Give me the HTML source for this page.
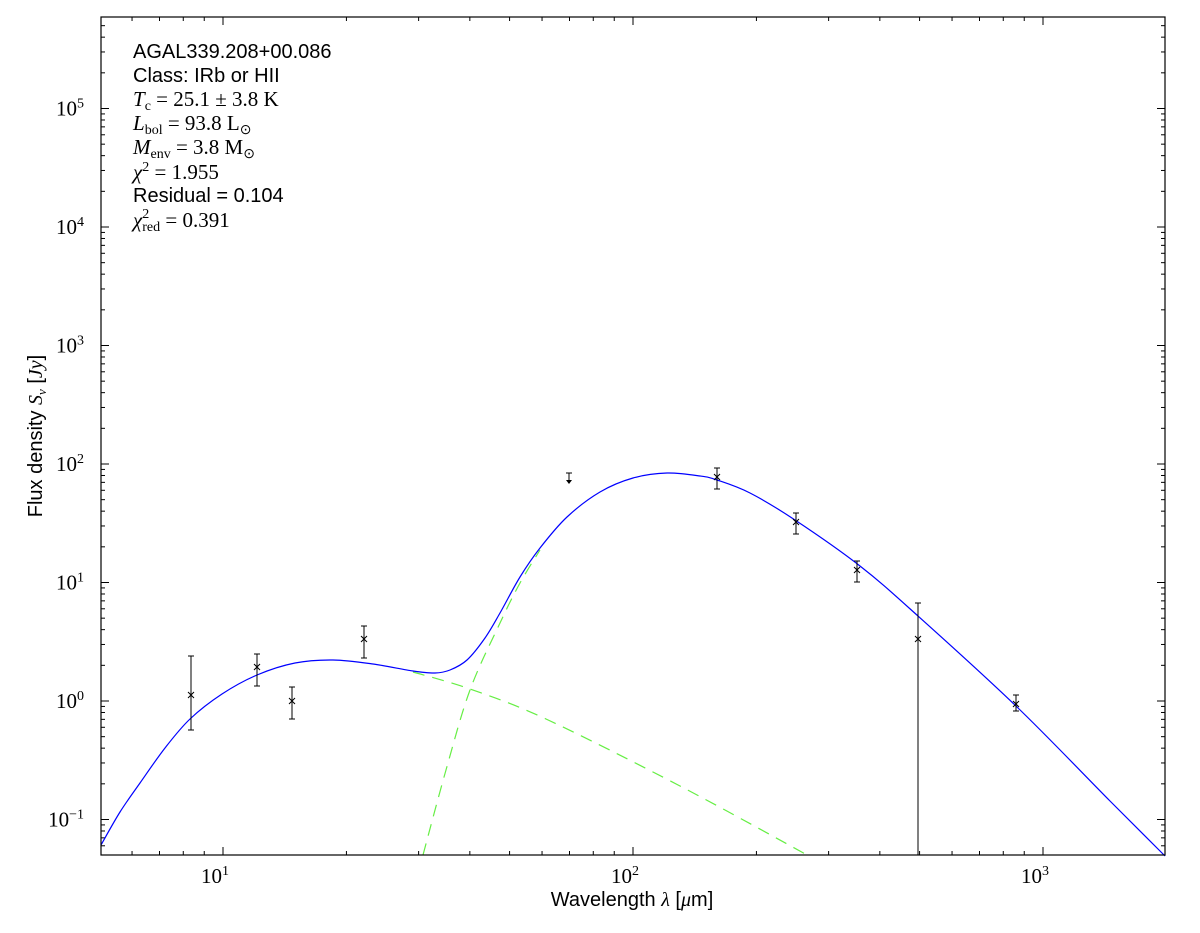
<!DOCTYPE html>
<html><head><meta charset="utf-8"><style>
html,body{margin:0;padding:0;background:#fff;}
svg{display:block;}
text{font-family:"Liberation Serif",serif;fill:#000;}
.s{font-family:"Liberation Sans",sans-serif;}
</style></head><body>
<svg id="c" width="1200" height="933" xmlns="http://www.w3.org/2000/svg">
<rect width="1200" height="933" fill="#fff"/>
<g id="g"></g>
<rect x="101" y="17" width="1064" height="838" fill="none" stroke="#000" stroke-width="1.2"/>
<g font-size="21">
<text x="133" y="58" class="s" font-size="20">AGAL339.208+00.086</text>
<text x="133" y="82" class="s" font-size="20">Class: IRb or HII</text>
<text x="133" y="106"><tspan font-style="italic">T</tspan><tspan font-size="14" dy="4">c</tspan><tspan dy="-4"> = 25.1 ± 3.8 K</tspan></text>
<text x="133" y="130"><tspan font-style="italic">L</tspan><tspan font-size="14" dy="4">bol</tspan><tspan dy="-4"> = 93.8 L</tspan><tspan font-size="14" dy="4">⊙</tspan></text>
<text x="133" y="154"><tspan font-style="italic">M</tspan><tspan font-size="14" dy="4">env</tspan><tspan dy="-4"> = 3.8 M</tspan><tspan font-size="14" dy="4">⊙</tspan></text>
<text x="133" y="179"><tspan font-style="italic">χ</tspan><tspan font-size="14" dy="-8">2</tspan><tspan dy="8"> = 1.955</tspan></text>
<text x="133" y="202" class="s" font-size="20">Residual = 0.104</text>
<text x="133" y="227"><tspan font-style="italic">χ</tspan><tspan font-size="14" dy="-9">2</tspan><tspan font-size="14" dx="-7" dy="13">red</tspan><tspan dy="-4"> = 0.391</tspan></text>
</g>
<text x="632" y="906" class="s" font-size="20" text-anchor="middle">Wavelength <tspan font-family="Liberation Serif" font-style="italic">λ</tspan> [<tspan font-family="Liberation Serif" font-style="italic">μ</tspan>m]</text>
<text transform="translate(42,436) rotate(-90)" class="s" font-size="20" text-anchor="middle">Flux density <tspan font-family="Liberation Serif" font-style="italic">S</tspan><tspan font-family="Liberation Serif" font-style="italic" font-size="13" dy="4">ν</tspan><tspan dy="-4"> [</tspan><tspan font-family="Liberation Serif" font-style="italic">Jy</tspan>]</text>
</svg>
<script>
var NS="http://www.w3.org/2000/svg",g=document.getElementById('g');
function el(t,a,p){var e=document.createElementNS(NS,t);for(var k in a)e.setAttribute(k,a[k]);(p||g).appendChild(e);return e;}
var L=101,R=1165,T=17,B=855;
function X(l){return 223+(Math.log10(l)-1)*410;}
function Y(v){return 701-Math.log10(v)*118.5;}
var tk={stroke:"#000","stroke-width":1};
for(var d=0;d<=3;d++)for(var m=1;m<10;m++){var x=X(m*Math.pow(10,d));if(x<L||x>R)continue;var len=m==1?8:4;
el('line',Object.assign({x1:x,x2:x,y1:B,y2:B-len},tk));el('line',Object.assign({x1:x,x2:x,y1:T,y2:T+len},tk));
if(m==1){var t=el('text',{x:x-8,y:883,"font-size":21,"text-anchor":"middle"});t.textContent="10";var s=el('tspan',{"font-size":14,dy:-8},t);s.textContent=String(d);}}
for(var d=-2;d<=5;d++)for(var m=1;m<10;m++){var y=Y(m*Math.pow(10,d));if(y<T||y>B)continue;var len=m==1?8:4;
el('line',Object.assign({x1:L,x2:L+len,y1:y,y2:y},tk));el('line',Object.assign({x1:R,x2:R-len,y1:y,y2:y},tk));
if(m==1){var t=el('text',{x:84,y:y+7,"font-size":21,"text-anchor":"end"});t.textContent="10";var s=el('tspan',{"font-size":14,dy:-8},t);s.textContent=d<0?"−"+(-d):String(d);}}
function cr(p){var s="M"+p[0][0]+","+p[0][1];for(var i=0;i<p.length-1;i++){var p0=p[i-1]||p[i],p1=p[i],p2=p[i+1],p3=p[i+2]||p2;
s+=" C"+(p1[0]+(p2[0]-p0[0])/6)+","+(p1[1]+(p2[1]-p0[1])/6)+" "+(p2[0]-(p3[0]-p1[0])/6)+","+(p2[1]-(p3[1]-p1[1])/6)+" "+p2[0]+","+p2[1];}return s;}
el('path',{d:cr([[423,855],[446,770],[470,690],[500,623],[520,583],[540,550]]),fill:"none",stroke:"#66ee44","stroke-width":1.2,"stroke-dasharray":"12,8"});
el('path',{d:cr([[413,672],[470,689],[546,719],[680,786],[809,856]]),fill:"none",stroke:"#66ee44","stroke-width":1.2,"stroke-dasharray":"12,8"});
el('path',{d:cr([[101,845],[120,812],[140,783],[165,748],[190,719],[222,694],[257,675],[295,663],[333,660],[373,664],[413,671],[435,673],[450,670],[467,660],[485,638],[500,613],[520,577],[540,548],[567,517],[600,492],[633,478],[667,473],[700,476],[717,480],[750,493],[795,520],[860,566],[918,616],[1017,707],[1110,801],[1165,856]]),fill:"none",stroke:"#0000ff","stroke-width":1.2});
var D=[[191,695,656,730],[257,667,654,686],[292,701,687,719],[364,639,626,658],[717,477,468,489],[796,522,513,534],[857,570,561,582],[918,639,603,855],[1016,704,695,711]];
D.forEach(function(p){var x=p[0];el('line',Object.assign({x1:x,x2:x,y1:p[2],y2:p[3]},tk));
el('line',Object.assign({x1:x-3,x2:x+3,y1:p[2],y2:p[2]},tk));if(p[3]<855)el('line',Object.assign({x1:x-3,x2:x+3,y1:p[3],y2:p[3]},tk));
el('path',{d:"M"+(x-3)+","+(p[1]-3)+"L"+(x+3)+","+(p[1]+3)+"M"+(x-3)+","+(p[1]+3)+"L"+(x+3)+","+(p[1]-3),stroke:"#000","stroke-width":1});});
el('line',Object.assign({x1:569,x2:569,y1:473,y2:482},tk));el('line',Object.assign({x1:566,x2:572,y1:473,y2:473},tk));
el('path',{d:"M566,480L569,484L572,480Z",fill:"#000"});
</script>
</body></html>
